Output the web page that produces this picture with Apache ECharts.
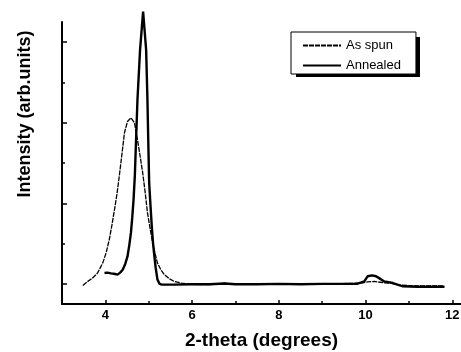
<!DOCTYPE html>
<html>
<head>
<meta charset="utf-8">
<script src="https://cdn.jsdelivr.net/npm/echarts@6/dist/echarts.min.js"></script>
<style>
  html, body { margin: 0; padding: 0; background: #fff; }
  #chart { width: 461px; height: 352px; }
</style>
</head>
<body>
<div id="chart"></div>
<script>
// 2-theta 数据
const asSpunX = [3.48, 3.58, 3.70, 3.82, 3.94, 4.02, 4.09, 4.15, 4.21, 4.27, 4.32, 4.38, 4.44, 4.51, 4.59, 4.67, 4.74, 4.80, 4.86, 4.92, 4.97, 5.03, 5.09, 5.15, 5.20, 5.28, 5.36, 5.47, 5.59, 5.75, 5.90, 6.13, 6.40, 6.60, 6.75, 6.90, 7.20, 7.60, 8.00, 8.40, 8.80, 9.20, 9.60, 9.90, 10.05, 10.20, 10.40, 10.60, 10.80, 11.10, 11.40, 11.80]
const asSpunY = [-0.04, 0.05, 0.14, 0.27, 0.52, 0.78, 1.10, 1.45, 1.84, 2.25, 2.67, 3.20, 3.75, 4.03, 4.12, 4.00, 3.58, 3.18, 2.76, 2.25, 1.77, 1.38, 1.02, 0.74, 0.52, 0.35, 0.23, 0.13, 0.06, 0.02, 0.00, -0.02, -0.02, 0.00, 0.02, -0.01, -0.01, 0.00, 0.00, -0.01, 0.00, 0.00, 0.01, 0.02, 0.05, 0.06, 0.03, 0.01, -0.03, -0.05, -0.05, -0.05]

const annealedX = [3.98, 4.05, 4.13, 4.20, 4.28, 4.34, 4.40, 4.46, 4.51, 4.55, 4.59, 4.62, 4.65, 4.68, 4.70, 4.74, 4.80, 4.87, 4.94, 4.97, 4.99, 5.01, 5.04, 5.07, 5.10, 5.13, 5.16, 5.20, 5.25, 5.30, 5.60, 6.00, 6.40, 6.75, 7.00, 7.50, 8.00, 8.50, 9.00, 9.50, 9.80, 9.97, 10.05, 10.15, 10.24, 10.33, 10.43, 10.63, 10.86, 11.20, 11.50, 11.82]
const annealedY = [0.27, 0.28, 0.26, 0.25, 0.23, 0.28, 0.35, 0.50, 0.68, 0.95, 1.27, 1.65, 2.09, 2.70, 3.33, 4.57, 5.81, 6.76, 5.81, 4.57, 3.50, 2.51, 1.95, 1.43, 1.00, 0.68, 0.40, 0.11, 0.00, -0.02, -0.02, -0.01, -0.01, 0.01, -0.01, -0.01, 0.00, -0.01, 0.00, 0.00, 0.00, 0.06, 0.19, 0.21, 0.19, 0.13, 0.06, 0.02, -0.06, -0.07, -0.07, -0.07]

const xLabelTicks = [4, 6, 8, 10, 12]
const xMinorTicks = [5, 7, 9, 11]
const yMajorTicks = [0, 2, 4, 6]
const yMinorTicks = [1, 3, 5]

const zip = (xs, ys) => xs.map((x, i) => [x, ys[i]])

const chart = echarts.init(document.getElementById('chart'))
const font = '"Liberation Sans", Arial, sans-serif'
const xRange = { min: 3, max: 12.2 }
const yRange = { min: -0.5, max: 6.5 }

const option = {
  animation: false,
  backgroundColor: '#fff',
  grid: { left: 62, right: 0, top: 22, bottom: 48, outerBoundsMode: 'none' },
  legend: {
    orient: 'vertical',
    left: 291,
    top: 32,
    padding: [7, 15, 2, 11],
    itemWidth: 38,
    itemHeight: 12,
    itemGap: 7,
    itemStyle: { opacity: 0 },
    backgroundColor: '#fff',
    borderColor: '#000',
    borderWidth: 1,
    borderRadius: 0,
    textStyle: { fontFamily: font, fontSize: 13, color: '#000' },
    data: ['As spun', 'Annealed']
  },
  graphic: [{
    // 图例的阴影
    type: 'rect',
    z: 0,
    shape: { x: 296, y: 37, width: 124, height: 40 },
    style: { fill: '#000' }
  }, {
    type: 'text',
    x: 25,
    y: 114,
    rotation: Math.PI / 2,
    style: {
      text: 'Intensity (arb.units)',
      font: 'bold 18px ' + font,
      fill: '#000',
      align: 'center',
      verticalAlign: 'middle'
    }
  }],
  xAxis: [{
    type: 'value',
    ...xRange,
    name: '2-theta (degrees)',
    nameLocation: 'middle',
    nameGap: 27,
    nameTextStyle: { fontFamily: font, fontSize: 19, fontWeight: 'bold', color: '#000' },
    axisLine: { onZero: false, lineStyle: { color: '#000', width: 2 } },
    axisTick: { inside: true, length: 4, lineStyle: { color: '#000', width: 1.5 }, customValues: xLabelTicks },
    axisLabel: { customValues: xLabelTicks, margin: 5, fontFamily: font, fontSize: 13, fontWeight: 'bold', color: '#000' },
    splitLine: { show: false }
  }, {
    type: 'value',
    ...xRange,
    position: 'bottom',
    axisLine: { show: false, onZero: false },
    axisTick: { inside: true, length: 3, lineStyle: { color: '#000', width: 1.5 }, customValues: xMinorTicks },
    axisLabel: { show: false },
    splitLine: { show: false }
  }],
  yAxis: [{
    type: 'value',
    ...yRange,
    axisLine: { show: true, onZero: false, lineStyle: { color: '#000', width: 2 } },
    axisTick: { inside: true, length: 5, lineStyle: { color: '#000', width: 1.5 }, customValues: yMajorTicks },
    axisLabel: { show: false },
    splitLine: { show: false }
  }, {
    type: 'value',
    ...yRange,
    position: 'left',
    axisLine: { show: false, onZero: false },
    axisTick: { inside: true, length: 3, lineStyle: { color: '#000', width: 1.5 }, customValues: yMinorTicks },
    axisLabel: { show: false },
    splitLine: { show: false }
  }],
  series: [{
    name: 'As spun',
    type: 'line',
    data: zip(asSpunX, asSpunY),
    symbol: 'none',
    clip: false,
    lineStyle: { color: '#000', width: 1.3, type: [5, 1] },
    itemStyle: { color: '#000' }
  }, {
    name: 'Annealed',
    type: 'line',
    data: zip(annealedX, annealedY),
    symbol: 'none',
    clip: false,
    lineStyle: { color: '#000', width: 2.4 },
    itemStyle: { color: '#000' }
  }]
}
chart.setOption(option)
</script>
</body>
</html>
